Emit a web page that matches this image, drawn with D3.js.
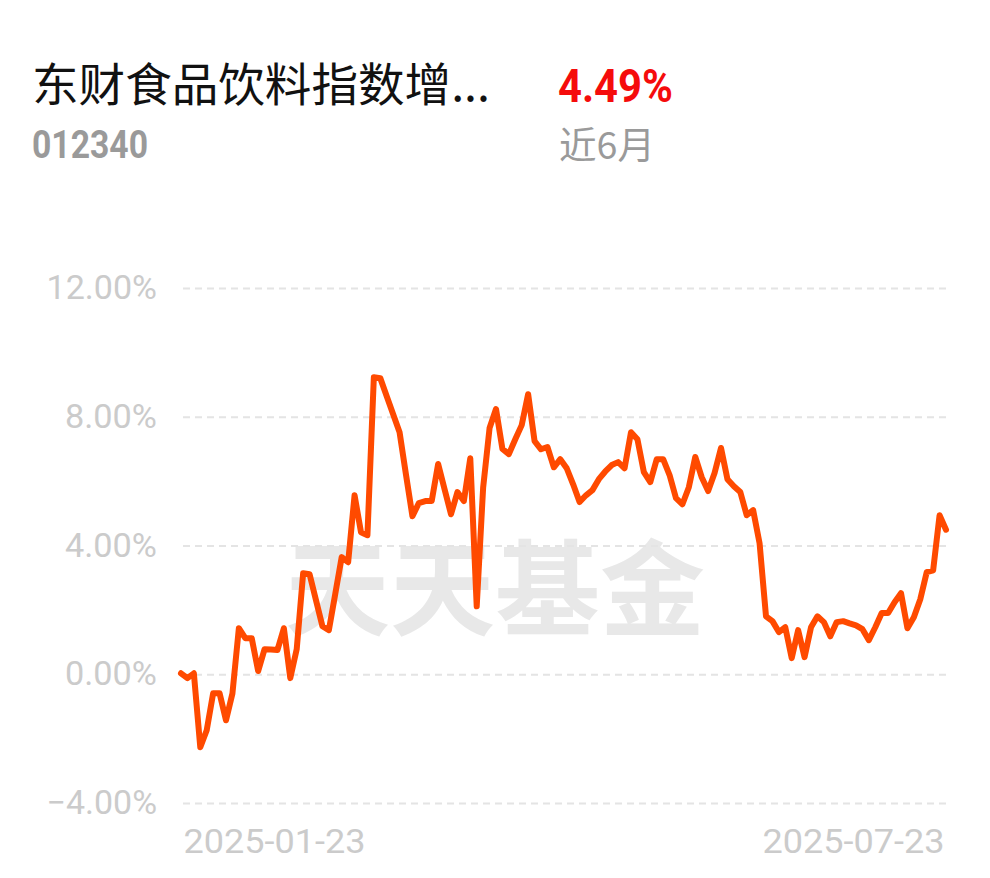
<!DOCTYPE html>
<html>
<head>
<meta charset="utf-8">
<script src="https://cdn.jsdelivr.net/npm/d3@7"></script>
<style>
  html, body { margin: 0; padding: 0; background: #fff; }
  svg { display: block; }
</style>
</head>
<body>
<svg id="chart" width="990" height="878"></svg>
<script>
const fundName = "东财食品饮料指数增...";
const fundCode = "012340";
const periodReturn = "4.49%";
const periodLabel = "近6月";
const watermark = "天天基金";

const yTicks = [-4, 0, 4, 8, 12];
const yTickLabels = ["\u22124.00%", "0.00%", "4.00%", "8.00%", "12.00%"];
const xTickIndex = [0, 119];
const xTickLabels = ["2025-01-23", "2025-07-23"];

const values = [
  0.03, -0.12, 0.03, -2.27, -1.74, -0.59, -0.59, -1.43, -0.60, 1.43,
  1.12, 1.12, 0.10, 0.78, 0.77, 0.75, 1.43, -0.12, 0.78, 3.14,
  3.11, 2.30, 1.49, 1.37, 2.50, 3.64, 3.48, 5.56, 4.41, 4.32,
  9.23, 9.20, 8.64, 8.08, 7.52, 6.20, 4.91, 5.32, 5.38, 5.38,
  6.53, 5.75, 4.97, 5.66, 5.38, 6.71, 2.11, 5.80, 7.65, 8.24,
  7.00, 6.84, 7.30, 7.74, 8.70, 7.24, 6.99, 7.06, 6.43, 6.68,
  6.40, 5.90, 5.35, 5.56, 5.72, 6.06, 6.30, 6.50, 6.59, 6.40,
  7.52, 7.30, 6.28, 5.97, 6.68, 6.68, 6.19, 5.47, 5.28, 5.81,
  6.75, 6.12, 5.69, 6.25, 7.03, 6.06, 5.84, 5.66, 4.94, 5.10,
  4.07, 1.80, 1.65, 1.31, 1.46, 0.50, 1.37, 0.53, 1.46, 1.80,
  1.62, 1.18, 1.62, 1.65, 1.58, 1.52, 1.40, 1.06, 1.46, 1.90,
  1.90, 2.24, 2.52, 1.43, 1.77, 2.33, 3.17, 3.23, 4.94, 4.49
];

const svg = d3.select("#chart");
const cjk = "'Noto Sans CJK SC', 'Noto Sans', sans-serif";
const num = "Roboto, 'Noto Sans', sans-serif";

// Header
svg.append("text").attr("x", 32).attr("y", 101)
  .attr("font-family", cjk).attr("font-size", 46).attr("fill", "#111")
  .attr("textLength", 458).attr("lengthAdjust", "spacingAndGlyphs")
  .text(fundName);
svg.append("text").attr("x", 558).attr("y", 102)
  .attr("font-family", num).attr("font-weight", 700).attr("font-size", 47).attr("fill", "#f50c0c")
  .attr("textLength", 115).attr("lengthAdjust", "spacingAndGlyphs")
  .text(periodReturn);
svg.append("text").attr("x", 32).attr("y", 158)
  .attr("font-family", num).attr("font-weight", 700).attr("font-size", 38).attr("fill", "#9a9a9a")
  .attr("textLength", 116).attr("lengthAdjust", "spacingAndGlyphs")
  .text(fundCode);
svg.append("text").attr("x", 559).attr("y", 159)
  .attr("font-family", cjk).attr("font-size", 37).attr("fill", "#9a9a9a")
  .attr("textLength", 96).attr("lengthAdjust", "spacingAndGlyphs")
  .text(periodLabel);

// Scales
const x = d3.scaleLinear().domain([0, values.length - 1]).range([181, 946]);
const y = d3.scaleLinear().domain([-4, 12]).range([803, 288]);

// Watermark
svg.append("text").attr("x", 495).attr("y", 628)
  .attr("text-anchor", "middle")
  .attr("font-family", cjk).attr("font-weight", 700).attr("font-size", 104)
  .attr("fill", "#e8e8e8")
  .attr("textLength", 420).attr("lengthAdjust", "spacingAndGlyphs")
  .text(watermark);

// Y axis with grid
const yAxis = d3.axisLeft(y)
  .tickValues(yTicks)
  .tickFormat((d, i) => yTickLabels[i])
  .tickSizeInner(-763)
  .tickSizeOuter(0)
  .tickPadding(26);
const gy = svg.append("g").attr("transform", "translate(183,0)").call(yAxis);
gy.select(".domain").remove();
gy.selectAll(".tick line")
  .attr("stroke", "#e4e4e4").attr("stroke-width", 2).attr("stroke-dasharray", "7,5");
gy.selectAll(".tick text")
  .attr("font-family", num).attr("font-size", 33).attr("fill", "#cbcbcb")
  .attr("textLength", (d, i) => yTickLabels[i].length * 18.4)
  .attr("lengthAdjust", "spacingAndGlyphs");

// X axis
const xAxis = d3.axisBottom(x)
  .tickValues(xTickIndex)
  .tickFormat((d, i) => xTickLabels[i])
  .tickSize(0)
  .tickPadding(0);
const gx = svg.append("g").attr("transform", "translate(0,853)").call(xAxis);
gx.select(".domain").remove();
gx.selectAll(".tick text")
  .attr("dy", 0)
  .attr("font-family", num).attr("font-size", 34).attr("fill", "#cbcbcb")
  .attr("text-anchor", (d, i) => i === 0 ? "start" : "end")
  .attr("dx", (d, i) => i === 0 ? 2 : -2)
  .attr("textLength", 182)
  .attr("lengthAdjust", "spacingAndGlyphs");

// Line
const line = d3.line().x((d, i) => x(i)).y(d => y(d));
svg.append("path").datum(values)
  .attr("d", line)
  .attr("fill", "none")
  .attr("stroke", "#ff4a00")
  .attr("stroke-width", 6)
  .attr("stroke-linejoin", "round")
  .attr("stroke-linecap", "round");
</script>
</body>
</html>
